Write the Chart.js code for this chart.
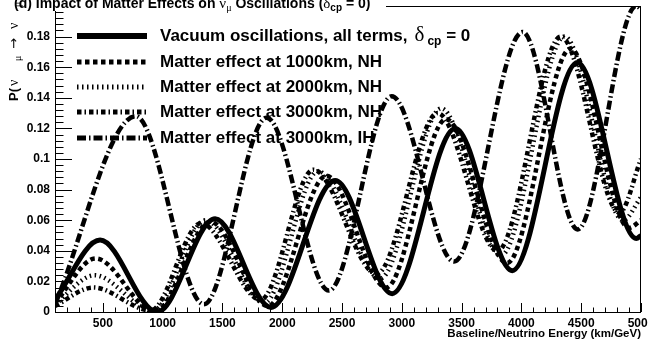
<!DOCTYPE html>
<html>
<head>
<meta charset="utf-8">
<script src="https://cdn.jsdelivr.net/npm/chart.js@4.4.1/dist/chart.umd.min.js"></script>
<style>
html, body { margin: 0; padding: 0; background: #fff; }
#wrap { width: 648px; height: 339px; }
</style>
</head>
<body>
<div id="wrap"><canvas id="oscChart"></canvas></div>
<script>
// L/E (km/GeV) and probability, one pair per curve
var vacX  = [100, 477, 954, 1439, 1907, 2443, 2920, 3447, 3924, 4468, 4960, 5000];
var vacP  = [0.008, 0.047, 0.0, 0.061, 0.003, 0.086, 0.012, 0.120, 0.027, 0.163, 0.048, 0.050];
var nh1X  = [100, 440, 935, 1400, 1880, 2370, 2870, 3370, 3880, 4410, 4900, 5000];
var nh1P  = [0.006, 0.035, 0.0, 0.059, 0.004, 0.089, 0.016, 0.126, 0.032, 0.172, 0.055, 0.060];
var nh2X  = [100, 430, 920, 1360, 1850, 2300, 2820, 3330, 3830, 4360, 4850, 5000];
var nh2P  = [0.005, 0.024, 0.001, 0.060, 0.006, 0.092, 0.022, 0.133, 0.037, 0.180, 0.060, 0.075];
var nh3X  = [100, 420, 900, 1320, 1820, 2260, 2790, 3300, 3800, 4330, 4820, 5000];
var nh3P  = [0.004, 0.016, 0.001, 0.058, 0.008, 0.093, 0.025, 0.130, 0.040, 0.180, 0.065, 0.100];
var ihX   = [100, 775, 1345, 1870, 2390, 2916, 3437, 4010, 4470, 4960, 5000];
var ihP   = [0.005, 0.128, 0.005, 0.127, 0.014, 0.141, 0.033, 0.183, 0.054, 0.200, 0.198];

var seriesNames = [
  "Vacuum oscillations, all terms,",
  "Matter effect at 1000km, NH",
  "Matter effect at 2000km, NH",
  "Matter effect at 3000km, NH",
  "Matter effect at 3000km, IH"
];
var xTickValues = [500, 1000, 1500, 2000, 2500, 3000, 3500, 4000, 4500, 5000];
var yTickValues = [0, 0.02, 0.04, 0.06, 0.08, 0.1, 0.12, 0.14, 0.16, 0.18];

function toPoints(xs, ys) {
  var pts = [];
  for (var i = 0; i < xs.length; i++) {
    pts.push({ x: xs[i], y: ys[i] });
  }
  return pts;
}

var dashes = [[], [4.5, 3.5], [1.5, 3.5], [4.5, 3, 1.5, 3], [9, 3, 1.5, 3]];
var allX = [vacX, nh1X, nh2X, nh3X, ihX];
var allP = [vacP, nh1P, nh2P, nh3P, ihP];

var datasets = [];
for (var i = 0; i < allX.length; i++) {
  datasets.push({
    label: seriesNames[i],
    data: toPoints(allX[i], allP[i]),
    borderColor: '#000',
    borderWidth: i == 0 ? 5 : 4.5,
    borderDash: dashes[i],
    borderCapStyle: 'butt',
    pointRadius: 0,
    fill: false,
    cubicInterpolationMode: 'monotone'
  });
}

var SANS = '"Liberation Sans", Arial, sans-serif';
var SERIF = '"Liberation Serif", serif';

// ROOT-like frame, inside ticks, titles and legend
var rootStyle = {
  id: 'rootStyle',
  afterDraw: function(chart) {
    var c = chart.ctx, a = chart.chartArea;
    var xs = chart.scales.x, ys = chart.scales.y;
    c.save();
    c.strokeStyle = '#000';
    c.lineWidth = 1;
    c.setLineDash([]);

    // frame
    c.strokeRect(a.left + 0.5, a.top + 0.5, a.right - a.left - 1, a.bottom - a.top);

    // x ticks (inside, pointing up)
    c.beginPath();
    for (var v = 100; v <= 5000; v += 100) {
      var px = Math.round(xs.getPixelForValue(v)) + 0.5;
      var len = (v % 500 == 0) ? 9 : 4.5;
      c.moveTo(px, a.bottom);
      c.lineTo(px, a.bottom - len);
    }
    // y ticks (inside, pointing right)
    for (var k = 0; k <= 50; k++) {
      var val = k * 0.004;
      var py = Math.round(ys.getPixelForValue(val)) + 0.5;
      var l2 = (k % 5 == 0) ? 17 : 8.5;
      c.moveTo(a.left, py);
      c.lineTo(a.left + l2, py);
    }
    c.stroke();

    // main title on a white box over the frame
    c.fillStyle = '#fff';
    c.fillRect(0, 0, 386, 11);
    c.fillStyle = '#000';
    c.textBaseline = 'alphabetic';
    c.textAlign = 'left';
    var tx = 14, ty = 8;
    function piece(txt, font, dy) {
      c.font = font;
      c.fillText(txt, tx, ty + (dy || 0));
      tx += c.measureText(txt).width;
    }
    piece('(d) Impact of Matter Effects on ', 'bold 14px ' + SANS);
    piece('\u03bd', '15px ' + SERIF);
    piece('\u03bc', '10px ' + SERIF, 3);
    piece(' Oscillations (', 'bold 14px ' + SANS);
    piece('\u03b4', '15px ' + SERIF);
    piece('cp', 'bold 10px ' + SANS, 3);
    piece(' = 0)', 'bold 14px ' + SANS);

    // y axis title (rotated, reading upwards)
    c.save();
    c.translate(18, 101);
    c.rotate(-Math.PI / 2);
    ty = 0;
    tx = 0;  piece('P(', 'bold 13px ' + SANS);
    tx = 15; piece('\u03bd', '14px ' + SERIF);
    tx = 40; piece('\u03bc', '10px ' + SERIF, 3);
    tx = 52; piece('\u2192', '13px "DejaVu Sans", sans-serif');
    tx = 72; piece('\u03bd', '14px ' + SERIF);
    tx = 94; piece('\u03bc', '10px ' + SERIF, 3);
    tx = 102; piece(')', 'bold 13px ' + SANS);
    c.restore();

    // x axis title
    c.font = 'bold 11.5px ' + SANS;
    c.textAlign = 'right';
    c.fillText('Baseline/Neutrino Energy (km/GeV)', 641, 337);

    // legend
    var rowY = [36, 62, 87, 112, 138];
    for (var i = 0; i < seriesNames.length; i++) {
      var y = rowY[i];
      c.setLineDash(dashes[i]);
      c.lineWidth = i == 0 ? 6 : 5;
      c.beginPath();
      c.moveTo(77, y);
      c.lineTo(147, y);
      c.stroke();
      c.setLineDash([]);
      c.textAlign = 'left';
      c.textBaseline = 'middle';
      c.font = 'bold 17px ' + SANS;
      c.fillText(seriesNames[i], 160, y);
      if (i == 0) {
        var lx = 160 + c.measureText(seriesNames[i]).width + 7;
        c.font = '21px ' + SERIF;
        c.fillText('\u03b4', lx, y - 1);
        lx += c.measureText('\u03b4').width + 3;
        c.font = 'bold 12px ' + SANS;
        c.fillText('cp', lx, y + 6);
        lx += c.measureText('cp').width;
        c.font = 'bold 17px ' + SANS;
        c.fillText(' = 0', lx, y);
      }
    }
    c.restore();
  }
};

const ctx = document.getElementById('oscChart');

new Chart(ctx, {
  type: 'line',
  data: { datasets: datasets },
  options: {
    responsive: true,
    maintainAspectRatio: false,
    animation: false,
    devicePixelRatio: 1,
    layout: { padding: { left: 0, top: 6, right: 7, bottom: 0 } },
    plugins: { legend: { display: false }, title: { display: false }, tooltip: { enabled: false } },
    scales: {
      x: {
        type: 'linear',
        min: 100,
        max: 5000,
        grid: { display: false, drawTicks: false },
        border: { display: false },
        ticks: {
          color: '#000',
          font: { family: SANS, size: 12, weight: 'bold' },
          padding: 4,
          maxRotation: 0,
          autoSkip: false,
          callback: function(v) { return String(v); }
        },
        afterBuildTicks: function(s) {
          s.ticks = xTickValues.map(function(v) { return { value: v }; });
        },
        afterFit: function(s) {
          s.height = 27;
          s.paddingLeft = 0;
          s.paddingRight = 0;
        }
      },
      y: {
        type: 'linear',
        min: 0,
        max: 0.2,
        grid: { display: false, drawTicks: false },
        border: { display: false },
        ticks: {
          color: '#000',
          font: { family: SANS, size: 12, weight: 'bold' },
          padding: 5,
          autoSkip: false,
          callback: function(v) { return String(v); }
        },
        afterBuildTicks: function(s) {
          s.ticks = yTickValues.map(function(v) { return { value: v }; });
        },
        afterFit: function(s) {
          s.width = 55;
          s.paddingTop = 0;
          s.paddingBottom = 0;
        }
      }
    }
  },
  plugins: [rootStyle]
});
</script>
</body>
</html>
